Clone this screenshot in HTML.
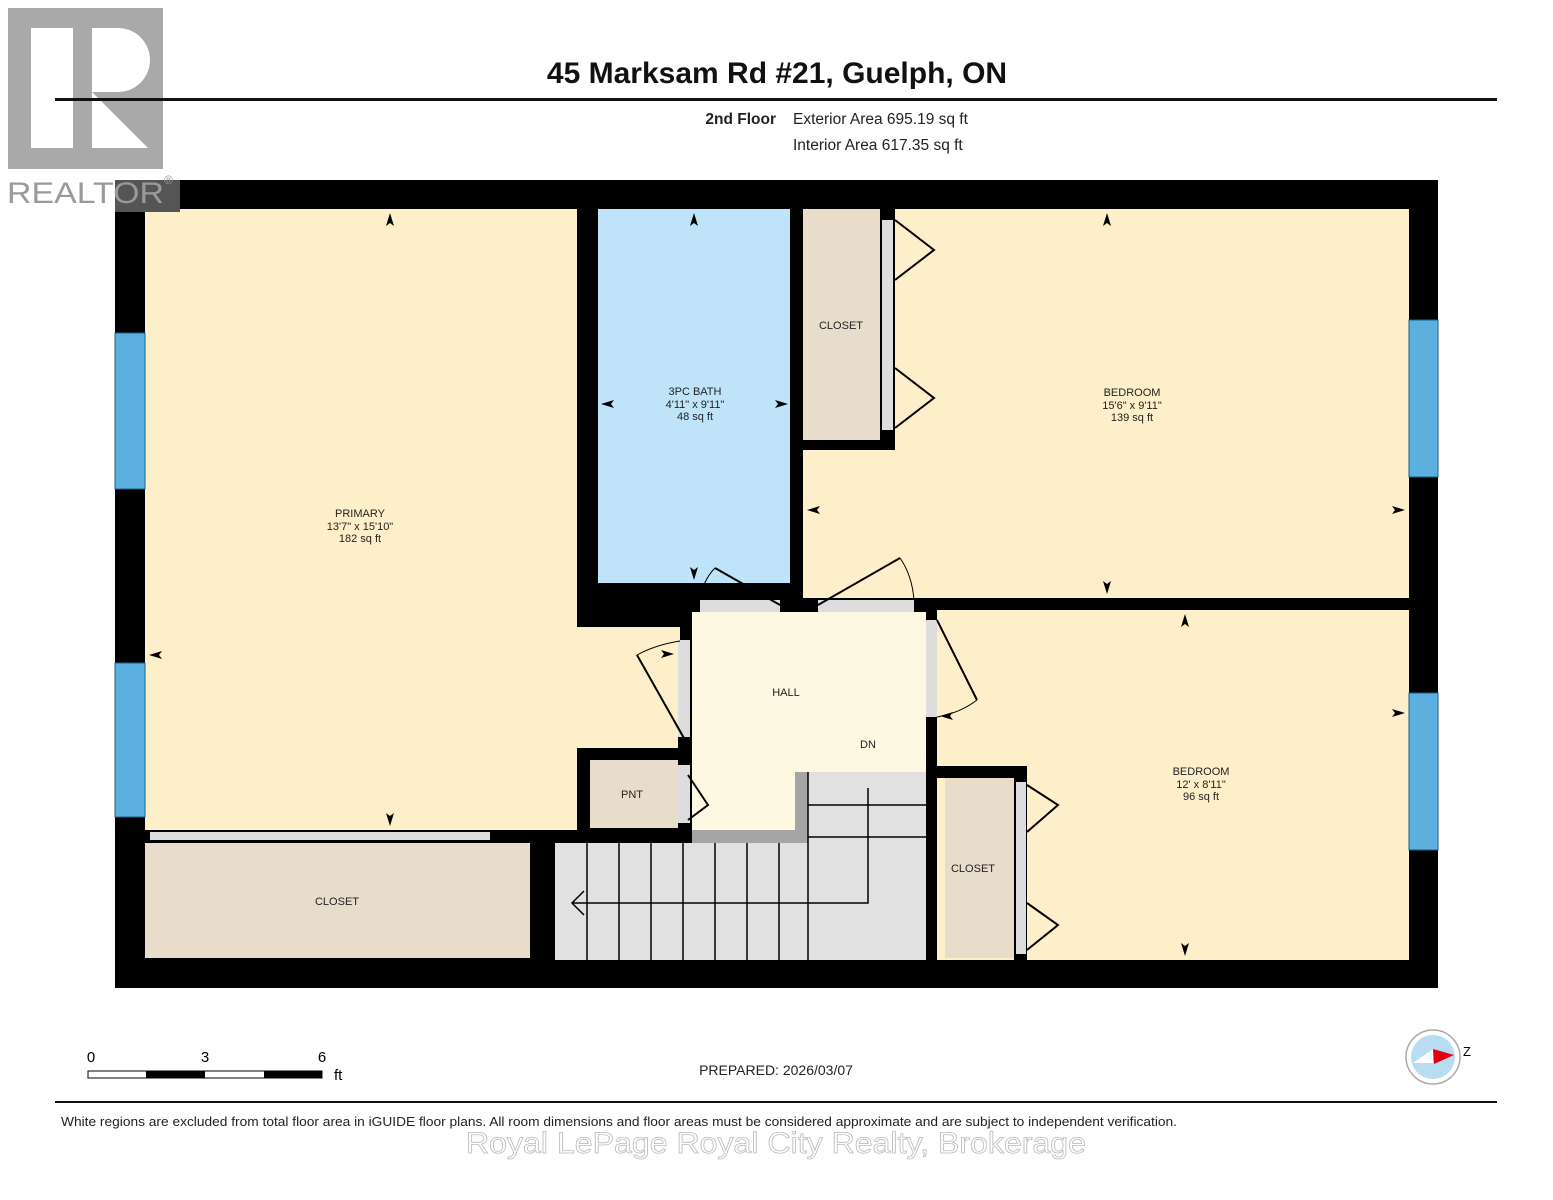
<!DOCTYPE html>
<html><head><meta charset="utf-8"><style>
html,body{margin:0;padding:0;background:#fff}
svg{display:block}
text{font-family:"Liberation Sans",Arial,sans-serif}
</style></head><body>
<svg width="1553" height="1200" viewBox="0 0 1553 1200" xmlns="http://www.w3.org/2000/svg">
<rect width="1553" height="1200" fill="#fff"/>
<!-- title -->
<text x="777" y="83" font-size="30" font-weight="bold" text-anchor="middle" fill="#111">45 Marksam Rd #21, Guelph, ON</text>
<text x="776" y="124" font-size="15.5" font-weight="bold" text-anchor="end" fill="#222">2nd Floor</text>
<text x="793" y="124" font-size="15.5" fill="#222">Exterior Area 695.19 sq ft</text>
<text x="793" y="150" font-size="15.5" fill="#222">Interior Area 617.35 sq ft</text>
<!-- outer walls -->
<rect x="115" y="180" width="1323" height="808" fill="#000"/>
<!-- rooms -->
<rect x="145" y="209" width="432" height="621" fill="#fdefc9"/>
<rect x="570" y="627" width="110" height="121" fill="#fdefc9"/>
<rect x="598" y="209" width="192" height="374" fill="#bfe3f9"/>
<rect x="803" y="209" width="606" height="389" fill="#fdefc9"/>
<rect x="803" y="209" width="77" height="231" fill="#e8dccb"/>
<rect x="880" y="209" width="15" height="241" fill="#000"/>
<rect x="803" y="440" width="92" height="10" fill="#000"/>
<rect x="882" y="220" width="11" height="210" fill="#ddd"/>
<rect x="937" y="610" width="472" height="350" fill="#fdefc9"/>
<rect x="933" y="766" width="94" height="12" fill="#000"/>
<rect x="1014" y="778" width="13" height="182" fill="#000"/>
<rect x="945" y="778" width="69" height="180" fill="#e8dccb"/>
<rect x="1016" y="782" width="10" height="172" fill="#ddd"/>
<rect x="692" y="612" width="234" height="218" fill="#fdf8e1"/>
<rect x="590" y="760" width="88" height="68" fill="#e8dccb"/>
<rect x="678" y="765" width="12" height="58" fill="#ddd"/>
<rect x="678" y="640" width="12" height="97" fill="#ddd"/>
<rect x="926" y="620" width="11" height="97" fill="#ddd"/>
<rect x="700" y="600" width="80" height="12" fill="#ddd"/>
<rect x="818" y="600" width="96" height="12" fill="#ddd"/>
<rect x="145" y="843" width="385" height="115" fill="#e8dccb"/>
<rect x="150" y="832" width="340" height="8" fill="#ddd"/>
<!-- stairs -->
<rect x="555" y="843" width="253" height="117" fill="#e1e1e1"/>
<rect x="808" y="772" width="118" height="188" fill="#e1e1e1"/>
<path d="M692 830 H795 V772 H808 V843 H692 Z" fill="#a5a5a5"/>
<g stroke="#000" stroke-width="1.5" fill="none">
<path d="M808 772 V960 M808 805 H926 M808 837 H926"/>
<path d="M587 843 V960 M619 843 V960 M651 843 V960 M683 843 V960 M715 843 V960 M747 843 V960 M779 843 V960"/>
<path d="M868 788 V903 H572 M584 891 L572 903 L584 915"/>
</g>
<!-- interior walls -->
<rect x="577" y="209" width="21" height="418" fill="#000"/>
<rect x="577" y="583" width="113" height="44" fill="#000"/>
<rect x="790" y="209" width="13" height="391" fill="#000"/>
<rect x="780" y="598" width="38" height="14" fill="#000"/>
<rect x="914" y="598" width="495" height="12" fill="#000"/>
<rect x="926" y="717" width="11" height="243" fill="#000"/>
<rect x="926" y="598" width="11" height="22" fill="#000"/>
<rect x="680" y="612" width="12" height="28" fill="#000"/>
<rect x="578" y="748" width="114" height="12" fill="#000"/>
<rect x="578" y="748" width="12" height="95" fill="#000"/>
<rect x="678" y="737" width="14" height="28" fill="#000"/>
<rect x="678" y="823" width="14" height="20" fill="#000"/>
<rect x="145" y="830" width="5" height="13" fill="#000"/>
<rect x="490" y="830" width="65" height="13" fill="#000"/>
<rect x="530" y="830" width="25" height="130" fill="#000"/>
<rect x="555" y="830" width="137" height="13" fill="#000"/>
<!-- windows -->
<g fill="#5bb0e0" stroke="#1a5f88" stroke-width="1">
<rect x="115" y="333" width="30" height="156"/><rect x="115" y="663" width="30" height="154"/>
<rect x="1409" y="320" width="29" height="157"/><rect x="1409" y="693" width="29" height="157"/>
</g>
<!-- doors -->
<g stroke="#000" stroke-width="2" fill="none">
<path d="M895 220 L934 250 L895 280 M895 368 L934 398 L895 428"/>
<path d="M1027 785 L1058 805 L1027 832 M1027 903 L1058 925 L1027 950"/>
<path d="M688 775 L708 805 L688 820"/>
<path d="M715 568 L780 605 M818 605 L900 558 M685 740 L637 655 M937 620 L977 700"/>
</g>
<g stroke="#000" stroke-width="1" fill="none">
<path d="M700 600 Q703 580 715 568 M900 558 Q912 575 914 600 M637 655 Q655 645 680 641 M977 700 Q960 713 937 717"/>
</g>
<!-- realtor logo -->
<rect x="8" y="8" width="155" height="161" fill="#a9a9a9"/>
<rect x="31" y="28" width="42" height="120" fill="#fff"/>
<path d="M92 28 H118 A32 32 0 0 1 118 92 H92 Z" fill="#fff"/>
<path d="M92 92 L148 148 H92 Z" fill="#fff"/>
<rect x="115" y="180" width="65" height="32" fill="#555"/>
<text x="7" y="203" font-size="30" fill="#9a9a9a" textLength="157" lengthAdjust="spacingAndGlyphs">REALTOR</text>
<text x="164" y="184" font-size="12" fill="#9a9a9a">®</text>
<rect x="55" y="98" width="1442" height="3" fill="#111"/>
<!-- labels -->
<g font-size="11" fill="#222" text-anchor="middle">
<text x="360" y="517">PRIMARY</text><text x="360" y="530">13'7" x 15'10"</text><text x="360" y="542">182 sq ft</text>
<text x="695" y="395">3PC BATH</text><text x="695" y="408">4'11" x 9'11"</text><text x="695" y="420">48 sq ft</text>
<text x="1132" y="396">BEDROOM</text><text x="1132" y="409">15'6" x 9'11"</text><text x="1132" y="421">139 sq ft</text>
<text x="1201" y="775">BEDROOM</text><text x="1201" y="788">12' x 8'11"</text><text x="1201" y="800">96 sq ft</text>
<text x="841" y="329">CLOSET</text><text x="973" y="872">CLOSET</text><text x="337" y="905">CLOSET</text>
<text x="786" y="696">HALL</text><text x="868" y="748">DN</text><text x="632" y="798">PNT</text>
</g>
<!-- dimension arrows -->
<g fill="#000">
<path d="M390 213 l-4 13 l4 -3 l4 3z M390 826 l-4 -13 l4 3 l4 -3z M149 655 l13 -4 l-3 4 l3 4z"/>
<path d="M694 213 l-4 13 l4 -3 l4 3z M694 580 l-4 -13 l4 3 l4 -3z M601 404 l13 -4 l-3 4 l3 4z M788 404 l-13 -4 l3 4 l-3 4z"/>
<path d="M1107 213 l-4 13 l4 -3 l4 3z M1107 594 l-4 -13 l4 3 l4 -3z M807 510 l13 -4 l-3 4 l3 4z M1405 510 l-13 -4 l3 4 l-3 4z"/>
<path d="M1185 614 l-4 13 l4 -3 l4 3z M1185 956 l-4 -13 l4 3 l4 -3z M1405 713 l-13 -4 l3 4 l-3 4z"/>
<path d="M674 654 l-13 -4 l3 4 l-3 4z M940 716 l13 -4 l-3 4 l3 4z"/>
</g>
<!-- scale -->
<text x="91" y="1062" font-size="15" text-anchor="middle">0</text>
<text x="205" y="1062" font-size="15" text-anchor="middle">3</text>
<text x="322" y="1062" font-size="15" text-anchor="middle">6</text>
<text x="334" y="1080" font-size="15">ft</text>
<rect x="88" y="1071" width="234" height="7" fill="#fff" stroke="#000" stroke-width="1"/>
<rect x="146" y="1071" width="59" height="7" fill="#000"/>
<rect x="264" y="1071" width="58" height="7" fill="#000"/>
<text x="776" y="1075" font-size="14" text-anchor="middle" fill="#222">PREPARED: 2026/03/07</text>
<!-- compass -->
<circle cx="1433" cy="1057" r="27" fill="#fff" stroke="#aaa" stroke-width="1.5"/>
<circle cx="1433" cy="1057" r="22" fill="#b8ddf3"/>
<path d="M1413 1063 L1433 1049 L1433 1063 Z" fill="#fff"/>
<path d="M1433 1049 L1454 1055 L1434 1064 Z" fill="#e00010"/>
<text x="1463" y="1056" font-size="13">Z</text>
<rect x="55" y="1101" width="1442" height="2" fill="#111"/>
<text x="61" y="1126" font-size="13" fill="#222" textLength="1116" lengthAdjust="spacingAndGlyphs">White regions are excluded from total floor area in iGUIDE floor plans. All room dimensions and floor areas must be considered approximate and are subject to independent verification.</text>
<text x="776" y="1153" font-size="30" text-anchor="middle" fill="#fff" stroke="#bbb" stroke-width="0.8" textLength="620" lengthAdjust="spacingAndGlyphs">Royal LePage Royal City Realty, Brokerage</text>
</svg>
</body></html>
